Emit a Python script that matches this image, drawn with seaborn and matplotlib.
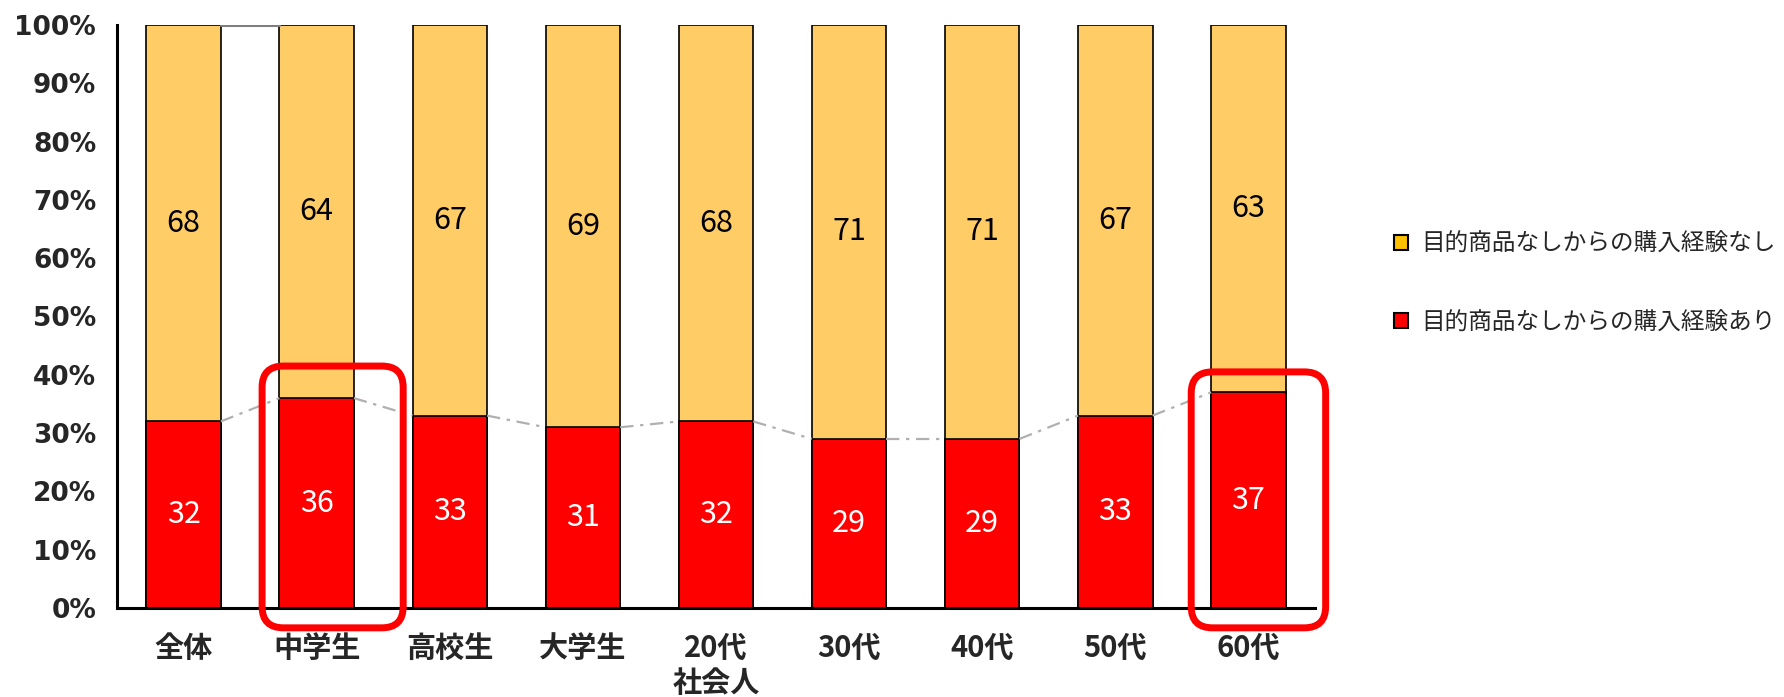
import matplotlib
matplotlib.use("Agg")
import matplotlib.pyplot as plt
from matplotlib.patches import FancyBboxPatch, Patch
from matplotlib.ticker import FixedLocator
import seaborn as sns
import pandas as pd

categories = ["全体", "中学生", "高校生", "大学生", "20代\n社会人", "30代", "40代", "50代", "60代"]
with_purchase = [32, 36, 33, 31, 32, 29, 29, 33, 37]      # 目的商品なしからの購入経験あり
without_purchase = [68, 64, 67, 69, 68, 71, 71, 67, 63]   # 目的商品なしからの購入経験なし
yticks = [0, 10, 20, 30, 40, 50, 60, 70, 80, 90, 100]
highlighted = ["中学生", "60代"]

label_without = "目的商品なしからの購入経験なし"
label_with = "目的商品なしからの購入経験あり"

sns.set_theme(style="white")
plt.rcParams["font.family"] = ["Noto Sans CJK JP", "DejaVu Sans"]

df = pd.DataFrame({
    "cat": categories,
    "with": with_purchase,
    "total": [a + b for a, b in zip(with_purchase, without_purchase)],
})

fig = plt.figure(figsize=(17.84, 6.97), dpi=100)
ax = fig.add_axes([117 / 1784, 1 - 608 / 697, (1315 - 117) / 1784, (608 - 25) / 697])

bar_w = 0.56
sns.barplot(data=df, x="cat", y="total", color="#FFCC66", saturation=1, width=bar_w,
            edgecolor="black", linewidth=1.2, ax=ax)
sns.barplot(data=df, x="cat", y="with", color="#FF0000", saturation=1, width=bar_w,
            edgecolor="black", linewidth=1.2, ax=ax)

n = len(categories)
half = bar_w / 2

# series lines joining the top of the red segments
for i in range(n - 1):
    ax.plot([i + half, i + 1 - half], [with_purchase[i], with_purchase[i + 1]],
            color="#B0B0B0", lw=1.6, ls=(0, (6, 3, 1.5, 3)), zorder=1)
# series line at the top of the first pair of bars
ax.plot([half, 1 - half], [df["total"][0], df["total"][1]], color="#7F7F7F", lw=2.2, zorder=1)

# value labels
for i in range(n):
    ax.text(i, with_purchase[i] / 2, f"{with_purchase[i]}", ha="center", va="center",
            color="white", fontsize=22)
    ax.text(i, with_purchase[i] + without_purchase[i] / 2, f"{without_purchase[i]}",
            ha="center", va="center", color="black", fontsize=22)

ax.set_xlim(-0.5, n - 0.5)
ax.set_ylim(0, 100)
ax.set_yticks(yticks)
ax.set_yticklabels([f"{v}%" for v in yticks], fontsize=19, fontweight="bold", family="DejaVu Sans")
ax.set_xticks(range(n))
ax.set_xticklabels(categories, fontsize=21, fontweight="bold", linespacing=1.2)
ax.set_xlabel("")
ax.set_ylabel("")
ax.xaxis.set_minor_locator(FixedLocator([i + 0.5 for i in range(n)]))
ax.tick_params(axis="x", which="major", length=0, pad=18)
ax.tick_params(axis="x", which="minor", direction="in", length=9, width=2, color="black")
ax.tick_params(axis="y", which="major", direction="out", length=9, width=2, color="black", pad=6)

for s in ["top", "right"]:
    ax.spines[s].set_visible(False)
for s in ["left", "bottom"]:
    ax.spines[s].set_color("black")
    ax.spines[s].set_linewidth(2.2)

# rounded highlight frames
boxes = {"中学生": (0.59, 1.65, 41.5), "60代": (7.57, 8.58, 40.5)}
for name in highlighted:
    x0, x1, top = boxes[name]
    rect = FancyBboxPatch((x0, -3.4), x1 - x0, top + 3.4,
                          boxstyle="round,pad=0,rounding_size=0.16",
                          mutation_aspect=100 / 583 * 133.1,
                          fill=False, edgecolor="#FF0000", linewidth=5, clip_on=False, zorder=5)
    ax.add_patch(rect)

handles = [Patch(facecolor="#FFC000", edgecolor="black", linewidth=1.5, label=label_without),
           Patch(facecolor="#FF0000", edgecolor="black", linewidth=1.5, label=label_with)]
fig.legend(handles=handles, loc="upper left", bbox_to_anchor=(1382 / 1784, 1 - 221 / 697),
           frameon=False, fontsize=17, handlelength=0.6, handleheight=0.6,
           handletextpad=0.55, labelspacing=2.35, borderpad=0)

fig.savefig("out.png", dpi=100)
